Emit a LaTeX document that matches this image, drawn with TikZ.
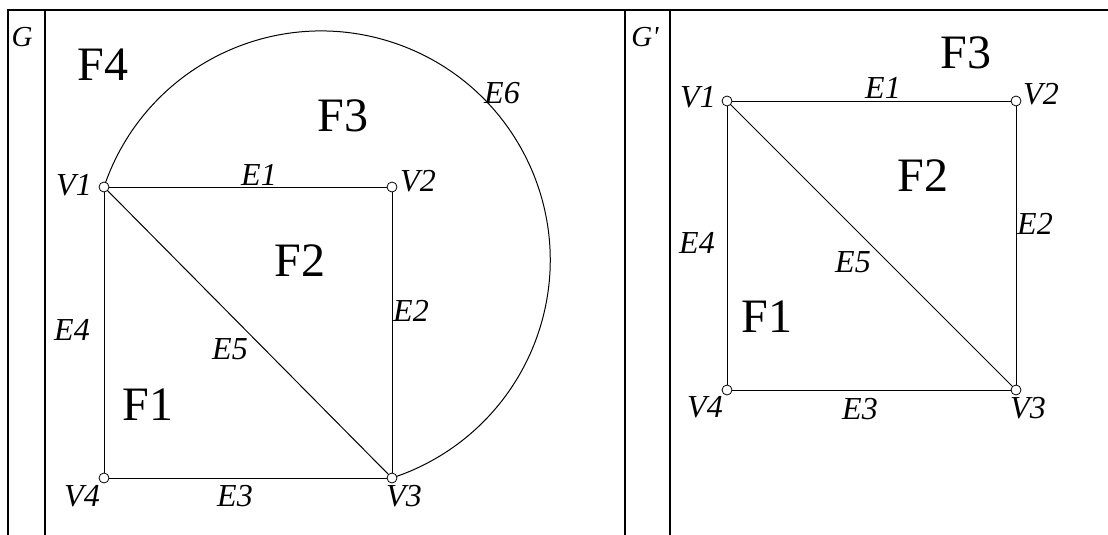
\documentclass[tikz,border=0pt]{standalone}
\usepackage{fontspec}
\setmainfont{Liberation Serif}
\usetikzlibrary{backgrounds}
\tikzset{
  vertex/.style={circle, draw, fill=white, minimum size=10pt, inner sep=0pt, line width=0.8pt},
  edge/.style={draw, line width=1pt},
  tablerule/.style={line width=2pt},
  vlabel/.style={font=\fontsize{32}{32}\selectfont\itshape, inner sep=0pt},
  glabel/.style={font=\fontsize{29}{29}\selectfont\itshape, inner sep=0pt},
  face/.style={font=\fontsize{48}{48}\selectfont, inner sep=0pt}
}

\begin{document}
\begin{tikzpicture}[x=1pt, y=-1pt]
\useasboundingbox (0,0) rectangle (1108,535);

\draw[tablerule] (8,535) -- (8,10) -- (1108,10);
\foreach \x in {45,625,670}
  \draw[tablerule] (\x,10) -- (\x,535);

\node[glabel] (gG) at (22,37) {G};
\node[face] (gF4) at (103,65) {F4};
\node[face] (gF3) at (343,116) {F3};
\node[face] (gF2) at (300,261) {F2};
\node[face] (gF1) at (148,405) {F1};

\node[vertex] (gv1) at (104,187) {};
\node[vertex] (gv2) at (392,187) {};
\node[vertex] (gv3) at (392,478) {};
\node[vertex] (gv4) at (104,478) {};

\draw[edge] (gv1) -- (gv2);
\draw[edge] (gv2) -- (gv3);
\draw[edge] (gv3) -- (gv4);
\draw[edge] (gv4) -- (gv1);
\draw[edge] (gv1) -- (gv3);
\begin{scope}[on background layer]
\draw[edge] (gv1.center) arc[start angle=198.6, end angle=432, radius=229.1];
\end{scope}

\node[vlabel] (gV1) at (74,185) {V1};
\node[vlabel] (gV2) at (418,181) {V2};
\node[vlabel] (gV3) at (404,496) {V3};
\node[vlabel] (gV4) at (82,496) {V4};
\node[vlabel] (gE1) at (259,175) {E1};
\node[vlabel] (gE2) at (411,311) {E2};
\node[vlabel] (gE3) at (235,496) {E3};
\node[vlabel] (gE4) at (72,330) {E4};
\node[vlabel] (gE5) at (230,349) {E5};
\node[vlabel] (gE6) at (502,93) {E6};

\node[glabel] (hG) at (645,37) {G\textquotesingle};
\node[face] (hF3) at (966,53) {F3};
\node[face] (hF2) at (923,176) {F2};
\node[face] (hF1) at (767,317) {F1};

\node[vertex] (hv1) at (727,101) {};
\node[vertex] (hv2) at (1016,101) {};
\node[vertex] (hv3) at (1016,390) {};
\node[vertex] (hv4) at (727,390) {};

\draw[edge] (hv1) -- (hv2);
\draw[edge] (hv2) -- (hv3);
\draw[edge] (hv3) -- (hv4);
\draw[edge] (hv4) -- (hv1);
\draw[edge] (hv1) -- (hv3);

\node[vlabel] (hV1) at (698,97) {V1};
\node[vlabel] (hV2) at (1041,94) {V2};
\node[vlabel] (hV3) at (1028,408) {V3};
\node[vlabel] (hV4) at (705,407) {V4};
\node[vlabel] (hE1) at (883,88) {E1};
\node[vlabel] (hE2) at (1035,224) {E2};
\node[vlabel] (hE3) at (860,409) {E3};
\node[vlabel] (hE4) at (697,243) {E4};
\node[vlabel] (hE5) at (853,262) {E5};
\end{tikzpicture}
\end{document}
